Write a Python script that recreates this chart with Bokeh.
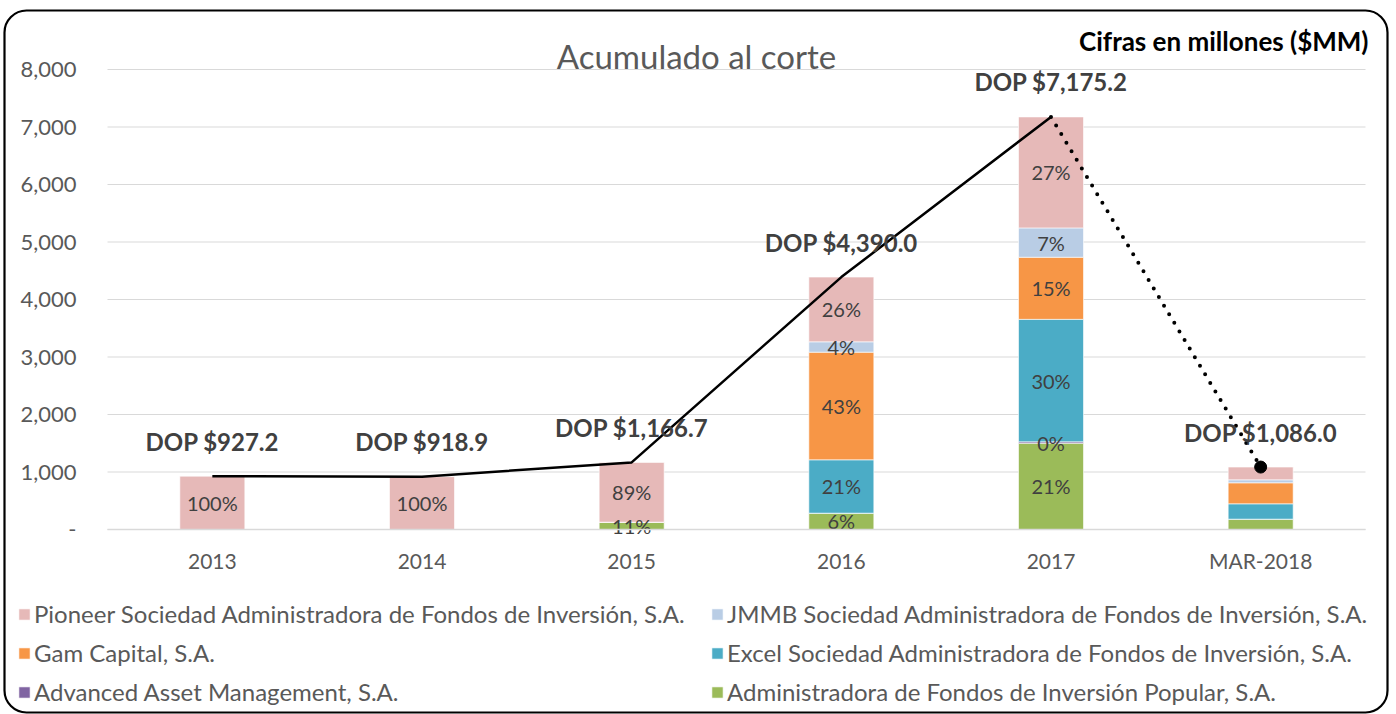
from bokeh.plotting import figure
from bokeh.models import (Range1d, ColumnDataSource, Legend, LegendItem,
                          Label, BoxAnnotation, FixedTicker, NumeralTickFormatter)
from bokeh.embed import file_html
from bokeh.resources import INLINE
from bokeh.core.properties import value

# ---------------- data ----------------
categories = ["2013", "2014", "2015", "2016", "2017", "MAR-2018"]

popular = [0, 0, 128, 284, 1500, 180]
advanced = [0, 0, 0, 0, 25, 0]
excel = [0, 0, 0, 928, 2130, 267]
gam = [0, 0, 0, 1872, 1080, 365]
jmmb = [0, 0, 0, 180, 510, 52]
pioneer = [927.2, 918.9, 1038.7, 1126, 1930.2, 222]
totals = [927.2, 918.9, 1166.7, 4390.0, 7175.2, 1086.0]

series_keys = ["popular", "advanced", "excel", "gam", "jmmb", "pioneer"]
series_names = [
    "Administradora de Fondos de Inversión Popular, S.A.",
    "Advanced Asset Management, S.A.",
    "Excel Sociedad Administradora de Fondos de Inversión, S.A.",
    "Gam Capital, S.A.",
    "JMMB Sociedad Administradora de Fondos de Inversión, S.A.",
    "Pioneer Sociedad Administradora de Fondos de Inversión, S.A.",
]
series_colors = ["#9BBB59", "#8064A2", "#4BACC6", "#F79646", "#B9CDE5", "#E6B9B8"]
y_ticks = [0, 1000, 2000, 3000, 4000, 5000, 6000, 7000, 8000]

FONT = "Lato"
GREY = "#595959"
DARK = "#404040"

W, H = 1396, 714
# plot area (in pixels of the canvas)
PL, PR, PT, PB = 107, 1365, 69, 529
ncat = len(categories)
xpos = [i + 0.5 for i in range(ncat)]
ux = (PR - PL) / ncat
uy = (PB - PT) / y_ticks[-1]
x_range = Range1d(-PL / ux, ncat + (W - PR) / ux)
y_range = Range1d(-(H - PB) / uy, y_ticks[-1] + PT / uy)

data = dict(x=xpos, popular=popular, advanced=advanced, excel=excel,
            gam=gam, jmmb=jmmb, pioneer=pioneer)
src = ColumnDataSource(data)

p = figure(width=W, height=H, x_range=x_range, y_range=y_range,
           output_backend="svg", toolbar_location=None, min_border=0,
           outline_line_color=None)

# horizontal grid lines over the category extent
p.segment(x0=[0] * len(y_ticks), x1=[ncat] * len(y_ticks), y0=y_ticks, y1=y_ticks,
          line_color="#D9D9D9", line_width=1)

bars = p.vbar_stack(series_keys, x="x", width=0.31, color=series_colors,
                    line_color="white", line_width=0.6, source=src)

# percentage labels
lx, ly, lt = [], [], []
for i in range(ncat - 1):
    cum = 0
    for k in series_keys:
        v = data[k][i]
        if v > 0:
            lx.append(xpos[i])
            ly.append(cum + v / 2)
            lt.append(f"{round(v / totals[i] * 100)}%")
        cum += v
p.text(x=lx, y=ly, text=lt, text_align="center", text_baseline="middle",
       text_font=value(FONT), text_font_size="20px", text_color=DARK)

# total line
p.line(x=xpos[:5], y=totals[:5], line_color="black", line_width=2.5)
p.line(x=xpos[4:], y=totals[4:], line_color="black", line_width=4,
       line_dash="0 10", line_cap="round")
p.scatter(x=xpos[5:], y=totals[5:], size=12, color="black")

total_labels = [f"DOP ${t:,.1f}" for t in totals]
p.text(x=xpos, y=totals, text=total_labels, y_offset=-35, text_align="center",
       text_baseline="middle", text_font=value(FONT), text_font_size="24px",
       text_font_style="bold", text_color=DARK)

# axes
p.xgrid.grid_line_color = None
p.ygrid.grid_line_color = None

p.yaxis.fixed_location = 0
p.yaxis.bounds = (0, y_ticks[-1])
p.yaxis.ticker = FixedTicker(ticks=y_ticks)
p.yaxis.formatter = NumeralTickFormatter(format="0,0")
p.yaxis.major_label_overrides = {0: "-"}
p.yaxis.axis_line_color = None
p.yaxis.major_tick_line_color = None
p.yaxis.minor_tick_line_color = None
p.yaxis.major_label_standoff = 25
p.yaxis.major_label_text_font = FONT
p.yaxis.major_label_text_font_size = "22px"
p.yaxis.major_label_text_color = GREY

p.xaxis.fixed_location = 0
p.xaxis.bounds = (0, ncat)
p.xaxis.ticker = FixedTicker(ticks=xpos)
p.xaxis.major_label_overrides = {xp: c for xp, c in zip(xpos, categories)}
p.xaxis.axis_line_color = "#D9D9D9"
p.xaxis.axis_line_width = 1.5
p.xaxis.major_tick_line_color = None
p.xaxis.minor_tick_line_color = None
p.xaxis.major_label_standoff = 12
p.xaxis.major_label_text_font = FONT
p.xaxis.major_label_text_font_size = "21px"
p.xaxis.major_label_text_color = GREY

# title texts (screen units: from bottom-left of canvas, y upward)
p.add_layout(Label(x=696, y=H - 55, x_units="screen", y_units="screen",
                   text="Acumulado al corte", text_align="center", text_baseline="middle",
                   text_font=FONT, text_font_size="33px", text_color=GREY))
p.add_layout(Label(x=1368, y=H - 40, x_units="screen", y_units="screen",
                   text="Cifras en millones ($MM)", text_align="right", text_baseline="middle",
                   text_font=FONT, text_font_size="26px", text_font_style="bold",
                   text_color="black"))

# legends (two columns)
def make_legend(idx, loc):
    items = [LegendItem(label=series_names[j], renderers=[bars[j]]) for j in idx]
    return Legend(items=items, location=loc, orientation="vertical",
                  label_text_font=FONT, label_text_font_size="24px",
                  label_text_color=GREY, glyph_width=14, glyph_height=14,
                  label_height=28, spacing=10, padding=0, margin=0,
                  label_standoff=3, border_line_alpha=0, background_fill_alpha=0)

p.add_layout(make_legend([5, 3, 1], (17, 8)))
p.add_layout(make_legend([4, 2, 0], (710, 8)))

# rounded frame
p.add_layout(BoxAnnotation(left=4, right=1387, top=H - 10, bottom=2,
                           left_units="screen", right_units="screen",
                           top_units="screen", bottom_units="screen",
                           fill_alpha=0, line_color="black", line_alpha=1,
                           line_width=2.2, border_radius=22))

open("out.html", "w").write(file_html(p, INLINE))
